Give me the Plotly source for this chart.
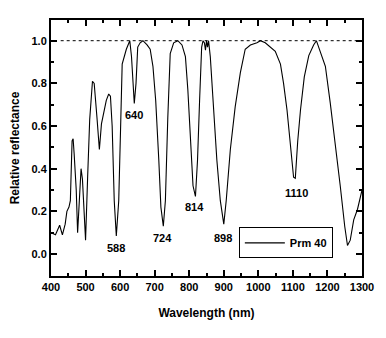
import plotly.graph_objects as go

wavelength = [400, 413, 425, 433, 441, 446, 452, 456, 461, 464, 467, 473, 477, 481, 487, 491, 495, 500,
              506, 512, 520, 525, 533, 540, 546, 554, 560, 567, 572, 577, 583, 589, 596, 602, 606, 618,
              628, 633, 638, 641, 646, 651, 658, 666, 678, 687, 695, 703, 712, 718, 725, 731, 738, 745,
              755, 767, 779, 789, 796, 803, 811, 818, 824, 830, 836, 840, 844, 847, 850, 853, 856, 861,
              871, 880, 890, 900, 907, 919, 933, 948, 962, 977, 996, 1006, 1020, 1035, 1049, 1064, 1073,
              1083, 1093, 1102, 1107, 1114, 1122, 1133, 1146, 1160, 1168, 1176, 1194, 1208, 1223, 1237,
              1250, 1258, 1266, 1276, 1287, 1300]
reflectance = [0.10, 0.09, 0.135, 0.09, 0.14, 0.20, 0.22, 0.25, 0.53, 0.54, 0.47, 0.30, 0.10, 0.22, 0.40,
               0.35, 0.19, 0.065, 0.36, 0.63, 0.81, 0.80, 0.64, 0.49, 0.61, 0.675, 0.72, 0.75, 0.74, 0.60,
               0.25, 0.085, 0.25, 0.63, 0.89, 0.96, 1.0, 0.925, 0.75, 0.706, 0.80, 0.97, 0.99, 1.0, 0.98,
               0.96, 0.88, 0.72, 0.44, 0.22, 0.13, 0.25, 0.64, 0.94, 0.99, 1.0, 0.98, 0.925, 0.77, 0.53,
               0.32, 0.27, 0.44, 0.72, 0.97, 1.0, 0.99, 0.955, 1.0, 0.97, 1.0, 0.925, 0.675, 0.44, 0.25,
               0.14, 0.25, 0.49, 0.69, 0.85, 0.96, 0.98, 0.99, 1.0, 0.99, 0.97, 0.95, 0.89, 0.80, 0.675,
               0.52, 0.36, 0.355, 0.53, 0.675, 0.83, 0.93, 0.98, 1.0, 0.96, 0.88, 0.71, 0.52, 0.32, 0.13,
               0.04, 0.065, 0.16, 0.21, 0.30]

ref_x = [428, 1296]
ref_y = [1.0, 1.0]

peak_labels = ["588", "640", "724", "814", "898", "1110"]
peak_x = [588, 640, 724, 814, 898, 1110]
peak_y = [0.028, 0.65, 0.075, 0.22, 0.075, 0.286]

font_family = "Liberation Sans, Arial, sans-serif"

fig = go.Figure()
fig.add_trace(go.Scatter(x=ref_x, y=ref_y, mode="lines",
                         line=dict(color="black", width=1, dash="3px,3px"),
                         showlegend=False, hoverinfo="skip"))
fig.add_trace(go.Scatter(x=wavelength, y=reflectance, mode="lines",
                         line=dict(color="black", width=1.1), name="Prm 40"))

for lab, px, py in zip(peak_labels, peak_x, peak_y):
    fig.add_annotation(x=px, y=py, text="<b>%s</b>" % lab, showarrow=False,
                       font=dict(family=font_family, size=11, color="black"))

axis_common = dict(showline=True, linecolor="black", linewidth=2, mirror="ticks",
                   ticks="inside", ticklen=6, tickwidth=2, tickcolor="black",
                   showgrid=False, zeroline=False,
                   tickfont=dict(family=font_family, size=11, color="black", weight="bold"))

fig.update_xaxes(range=[400, 1300], dtick=100, tick0=400,
                 minor=dict(ticks="inside", dtick=50, ticklen=3, tickwidth=1.5, tickcolor="black"),
                 title=dict(text="<b>Wavelength (nm)</b>", standoff=16,
                            font=dict(family=font_family, size=12, color="black")),
                 **axis_common)
fig.update_yaxes(range=[-0.103, 1.097], dtick=0.2, tick0=0, tickformat=".1f",
                 minor=dict(ticks="inside", dtick=0.1, ticklen=3, tickwidth=1.5, tickcolor="black"),
                 title=dict(text="<b>Relative reflectance</b>", standoff=9,
                            font=dict(family=font_family, size=12, color="black")),
                 **axis_common)

fig.update_layout(
    width=386, height=338,
    margin=dict(l=51, r=24, t=20, b=62),
    paper_bgcolor="white", plot_bgcolor="white",
    legend=dict(x=0.604, y=0.19, xanchor="left", yanchor="top",
                bordercolor="black", borderwidth=1, bgcolor="white",
                font=dict(family=font_family, size=11, color="black", weight="bold"),
                itemwidth=40, tracegroupgap=0),
)

fig.write_html("out.html")
